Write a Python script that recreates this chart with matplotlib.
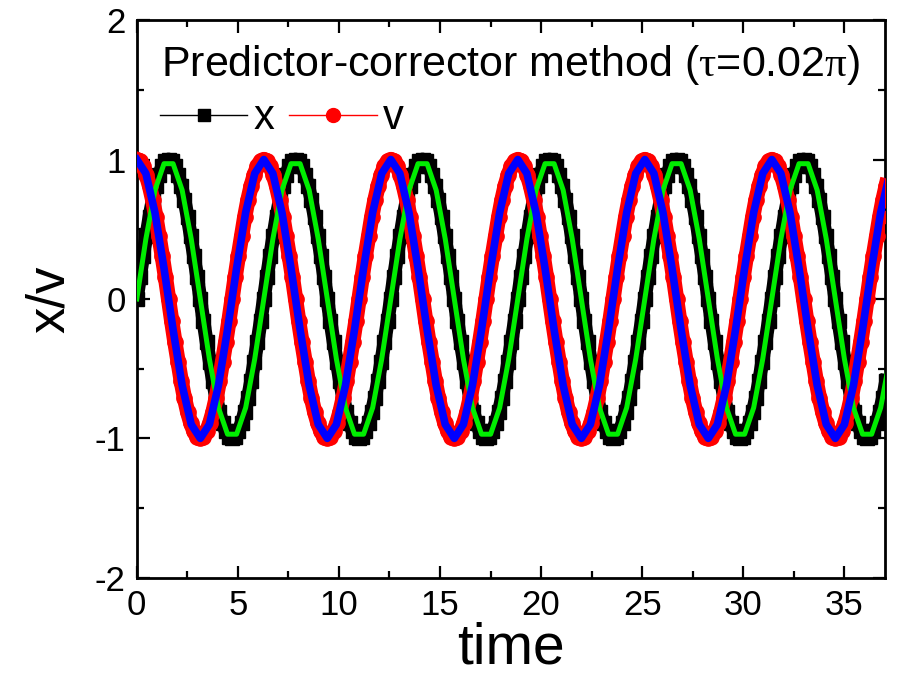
import numpy as np
import matplotlib
matplotlib.use("Agg")
import matplotlib.pyplot as plt
from matplotlib.lines import Line2D
from matplotlib.ticker import MultipleLocator

plt.rcParams['font.family'] = ['Liberation Sans', 'DejaVu Sans']
plt.rcParams['mathtext.fontset'] = 'custom'
plt.rcParams['mathtext.rm'] = 'Liberation Serif'
plt.rcParams['mathtext.default'] = 'rm'
plt.rcParams['axes.unicode_minus'] = False

# symbol series (x = black squares, v = red circles), read every 0.05*pi
dt_mark = 0.05 * np.pi
x_mark = [
    0.00, 0.16, 0.31, 0.45, 0.59, 0.71, 0.81, 0.89, 0.95, 0.99,
    1.00, 0.99, 0.95, 0.89, 0.81, 0.71, 0.59, 0.45, 0.31, 0.16,
    0.00, -0.16, -0.31, -0.45, -0.59, -0.71, -0.81, -0.89, -0.95, -0.99,
    -1.00, -0.99, -0.95, -0.89, -0.81, -0.71, -0.59, -0.45, -0.31, -0.16,
    0.00, 0.16, 0.31, 0.45, 0.59, 0.71, 0.81, 0.89, 0.95, 0.99,
    1.00, 0.99, 0.95, 0.89, 0.81, 0.71, 0.59, 0.45, 0.31, 0.16,
    0.00, -0.16, -0.31, -0.45, -0.59, -0.71, -0.81, -0.89, -0.95, -0.99,
    -1.00, -0.99, -0.95, -0.89, -0.81, -0.71, -0.59, -0.45, -0.31, -0.16,
    0.00, 0.16, 0.31, 0.45, 0.59, 0.71, 0.81, 0.89, 0.95, 0.99,
    1.00, 0.99, 0.95, 0.89, 0.81, 0.71, 0.59, 0.45, 0.31, 0.16,
    0.00, -0.16, -0.31, -0.45, -0.59, -0.71, -0.81, -0.89, -0.95, -0.99,
    -1.00, -0.99, -0.95, -0.89, -0.81, -0.71, -0.59, -0.45, -0.31, -0.16,
    0.00, 0.16, 0.31, 0.45, 0.59, 0.71, 0.81, 0.89, 0.95, 0.99,
    1.00, 0.99, 0.95, 0.89, 0.81, 0.71, 0.59, 0.45, 0.31, 0.16,
    0.00, -0.16, -0.31, -0.45, -0.59, -0.71, -0.81, -0.89, -0.95, -0.99,
    -1.00, -0.99, -0.95, -0.89, -0.81, -0.71, -0.59, -0.45, -0.31, -0.16,
    0.00, 0.16, 0.31, 0.45, 0.59, 0.71, 0.81, 0.89, 0.95, 0.99,
    1.00, 0.99, 0.95, 0.89, 0.81, 0.71, 0.59, 0.45, 0.31, 0.16,
    0.00, -0.16, -0.31, -0.45, -0.59, -0.71, -0.81, -0.89, -0.95, -0.99,
    -1.00, -0.99, -0.95, -0.89, -0.81, -0.71, -0.59, -0.45, -0.31, -0.16,
    0.00, 0.16, 0.31, 0.45, 0.59, 0.71, 0.81, 0.89, 0.95, 0.99,
    1.00, 0.99, 0.95, 0.89, 0.81, 0.71, 0.59, 0.45, 0.31, 0.16,
    0.00, -0.16, -0.31, -0.45, -0.59, -0.71, -0.81, -0.89, -0.95, -0.99,
    -1.00, -0.99, -0.95, -0.89, -0.81, -0.71, -0.59,
]
v_mark = [
    1.00, 0.99, 0.95, 0.89, 0.81, 0.71, 0.59, 0.45, 0.31, 0.16,
    0.00, -0.16, -0.31, -0.45, -0.59, -0.71, -0.81, -0.89, -0.95, -0.99,
    -1.00, -0.99, -0.95, -0.89, -0.81, -0.71, -0.59, -0.45, -0.31, -0.16,
    0.00, 0.16, 0.31, 0.45, 0.59, 0.71, 0.81, 0.89, 0.95, 0.99,
    1.00, 0.99, 0.95, 0.89, 0.81, 0.71, 0.59, 0.45, 0.31, 0.16,
    0.00, -0.16, -0.31, -0.45, -0.59, -0.71, -0.81, -0.89, -0.95, -0.99,
    -1.00, -0.99, -0.95, -0.89, -0.81, -0.71, -0.59, -0.45, -0.31, -0.16,
    0.00, 0.16, 0.31, 0.45, 0.59, 0.71, 0.81, 0.89, 0.95, 0.99,
    1.00, 0.99, 0.95, 0.89, 0.81, 0.71, 0.59, 0.45, 0.31, 0.16,
    0.00, -0.16, -0.31, -0.45, -0.59, -0.71, -0.81, -0.89, -0.95, -0.99,
    -1.00, -0.99, -0.95, -0.89, -0.81, -0.71, -0.59, -0.45, -0.31, -0.16,
    0.00, 0.16, 0.31, 0.45, 0.59, 0.71, 0.81, 0.89, 0.95, 0.99,
    1.00, 0.99, 0.95, 0.89, 0.81, 0.71, 0.59, 0.45, 0.31, 0.16,
    0.00, -0.16, -0.31, -0.45, -0.59, -0.71, -0.81, -0.89, -0.95, -0.99,
    -1.00, -0.99, -0.95, -0.89, -0.81, -0.71, -0.59, -0.45, -0.31, -0.16,
    0.00, 0.16, 0.31, 0.45, 0.59, 0.71, 0.81, 0.89, 0.95, 0.99,
    1.00, 0.99, 0.95, 0.89, 0.81, 0.71, 0.59, 0.45, 0.31, 0.16,
    0.00, -0.16, -0.31, -0.45, -0.59, -0.71, -0.81, -0.89, -0.95, -0.99,
    -1.00, -0.99, -0.95, -0.89, -0.81, -0.71, -0.59, -0.45, -0.31, -0.16,
    0.00, 0.16, 0.31, 0.45, 0.59, 0.71, 0.81, 0.89, 0.95, 0.99,
    1.00, 0.99, 0.95, 0.89, 0.81, 0.71, 0.59, 0.45, 0.31, 0.16,
    0.00, -0.16, -0.31, -0.45, -0.59, -0.71, -0.81, -0.89, -0.95, -0.99,
    -1.00, -0.99, -0.95, -0.89, -0.81, -0.71, -0.59, -0.45, -0.31, -0.16,
    0.00, 0.16, 0.31, 0.45, 0.59, 0.71, 0.81,
]

# line series (green = x, blue = v), coarser points every pi/7
dt_line = np.pi / 7
x_line = [
    0.00, 0.43, 0.78, 0.97, 0.97, 0.78, 0.43, 0.00, -0.43, -0.78, -0.97, -0.97, -0.78, -0.43,
    0.00, 0.43, 0.78, 0.97, 0.97, 0.78, 0.43, 0.00, -0.43, -0.78, -0.97, -0.97, -0.78, -0.43,
    0.00, 0.43, 0.78, 0.97, 0.97, 0.78, 0.43, 0.00, -0.43, -0.78, -0.97, -0.97, -0.78, -0.43,
    0.00, 0.43, 0.78, 0.97, 0.97, 0.78, 0.43, 0.00, -0.43, -0.78, -0.97, -0.97, -0.78, -0.43,
    0.00, 0.43, 0.78, 0.97, 0.97, 0.78, 0.43, 0.00, -0.43, -0.78, -0.97, -0.97, -0.78, -0.43,
    0.00, 0.43, 0.78, 0.97, 0.97, 0.78, 0.43, 0.00, -0.43, -0.78, -0.97, -0.97, -0.78, -0.43,
]
v_line = [
    1.00, 0.90, 0.62, 0.22, -0.22, -0.62, -0.90, -1.00, -0.90, -0.62, -0.22, 0.22, 0.62, 0.90,
    1.00, 0.90, 0.62, 0.22, -0.22, -0.62, -0.90, -1.00, -0.90, -0.62, -0.22, 0.22, 0.62, 0.90,
    1.00, 0.90, 0.62, 0.22, -0.22, -0.62, -0.90, -1.00, -0.90, -0.62, -0.22, 0.22, 0.62, 0.90,
    1.00, 0.90, 0.62, 0.22, -0.22, -0.62, -0.90, -1.00, -0.90, -0.62, -0.22, 0.22, 0.62, 0.90,
    1.00, 0.90, 0.62, 0.22, -0.22, -0.62, -0.90, -1.00, -0.90, -0.62, -0.22, 0.22, 0.62, 0.90,
    1.00, 0.90, 0.62, 0.22, -0.22, -0.62, -0.90, -1.00, -0.90, -0.62, -0.22, 0.22, 0.62, 0.90,
]

t_mark = np.arange(len(x_mark)) * dt_mark
t_line = np.arange(len(x_line)) * dt_line

fig = plt.figure(figsize=(9, 6.92), dpi=100)
ax = fig.add_axes([0.152, 0.165, 0.831, 0.806])

# symbols drawn as a thick band plus the markers (they overlap in the original)
ax.plot(t_mark, x_mark, color='black', lw=10, solid_joinstyle='round', zorder=2)
ax.plot(t_mark, x_mark, ls='none', marker='s', ms=10, color='black', zorder=2)
ax.plot(t_mark, v_mark, color='red', lw=11, solid_joinstyle='round', zorder=3)
ax.plot(t_mark, v_mark, ls='none', marker='o', ms=11, color='red', zorder=3)
ax.plot(t_line, x_line, color='#00ee00', lw=3.6, zorder=4)
ax.plot(t_line, v_line, color='blue', lw=5.5, zorder=5)

ax.set_xlim(0, 37)
ax.set_ylim(-2, 2)
ax.xaxis.set_major_locator(MultipleLocator(5))
ax.xaxis.set_minor_locator(MultipleLocator(2.5))
ax.yaxis.set_major_locator(MultipleLocator(1))
ax.yaxis.set_minor_locator(MultipleLocator(0.5))
ax.tick_params(which='both', direction='in', top=True, right=True, width=1.6)
ax.tick_params(which='major', length=9, labelsize=25, pad=8)
ax.tick_params(which='minor', length=5)
for s in ax.spines.values():
    s.set_linewidth(2)

ax.set_xlabel('time', fontsize=41, labelpad=0)
ax.set_ylabel('x/v', fontsize=38, labelpad=14)

ax.text(0.033, 0.92, r'Predictor-corrector method ($\tau$=0.02$\pi$)', transform=ax.transAxes,
        fontsize=31, va='center', ha='left')

handles = [Line2D([], [], color='black', lw=1, marker='s', ms=8.5),
           Line2D([], [], color='red', lw=1, marker='o', ms=10)]
ax.legend(handles, ['x', 'v'], ncol=2, loc='center left', bbox_to_anchor=(-0.008, 0.824),
          frameon=False, fontsize=30, handlelength=2.1, handletextpad=0.15,
          columnspacing=0.35, borderaxespad=0.3)

fig.savefig('out.png', dpi=100)
